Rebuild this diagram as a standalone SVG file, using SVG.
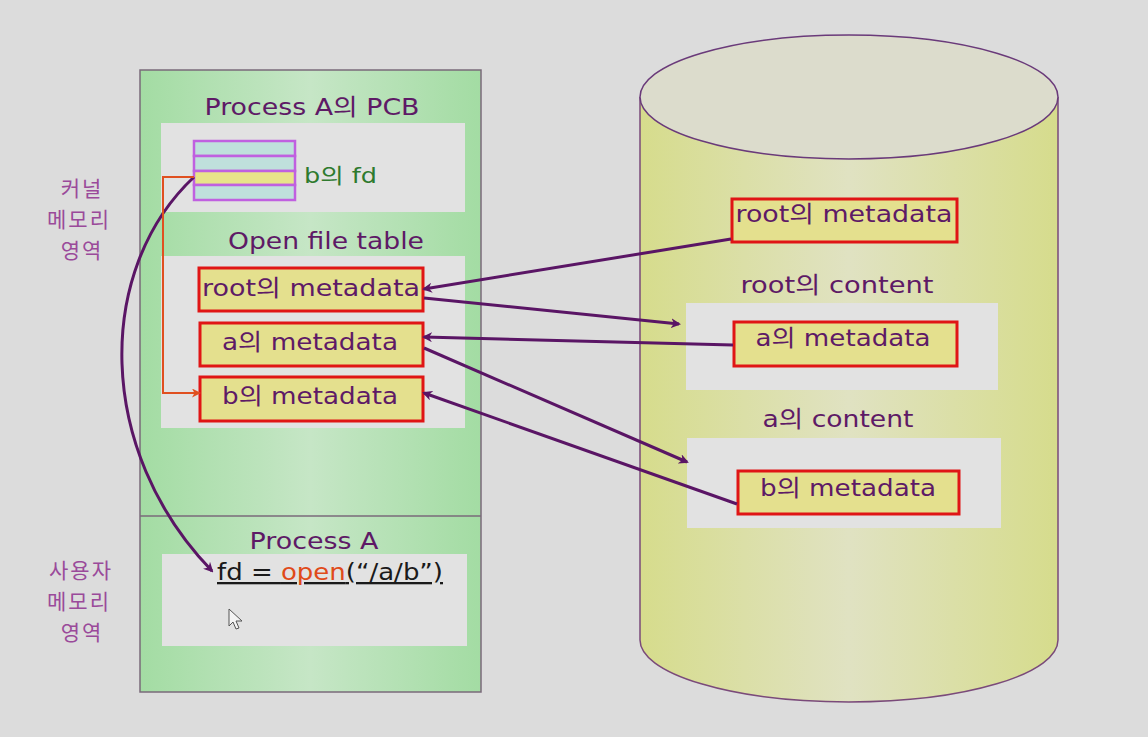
<svg xmlns="http://www.w3.org/2000/svg" width="1148" height="737" viewBox="0 0 1148 737">
<defs>
<linearGradient id="green" x1="0" y1="0" x2="1" y2="0">
<stop offset="0" stop-color="#a3dca3"/><stop offset="0.5" stop-color="#c6e6c6"/><stop offset="1" stop-color="#a3dca3"/>
</linearGradient>
<linearGradient id="cyl" x1="0" y1="0" x2="1" y2="0">
<stop offset="0" stop-color="#d6dc8c"/><stop offset="0.5" stop-color="#e0e2c2"/><stop offset="1" stop-color="#d6dc8c"/>
</linearGradient>
<marker id="ah" markerWidth="10" markerHeight="10" refX="8" refY="5" orient="auto" markerUnits="userSpaceOnUse">
<path d="M0,0 L10,5 L0,10 L3,5 Z" fill="#5a1565"/>
</marker>
<marker id="aho" markerWidth="9" markerHeight="9" refX="7" refY="4.5" orient="auto" markerUnits="userSpaceOnUse">
<path d="M0,0 L9,4.5 L0,9 L2.5,4.5 Z" fill="#e05020"/>
</marker>
<style>
.t{font-family:"DejaVu Sans","Noto Sans CJK KR",sans-serif;fill:#5e1a66}
.h{font-size:23px;text-anchor:middle}
.md{font-size:23px;text-anchor:middle}
.lab{font-family:"Noto Sans CJK KR",sans-serif;font-size:21px;letter-spacing:2px;fill:#9a4a9a;text-anchor:middle}
.gb{fill:#e2e2e2}
.meta{fill:#e4e08e;stroke:#e01515;stroke-width:3}
.row{stroke:#c060e0;stroke-width:2.5}
.c{fill:none;stroke:#5a1565;stroke-width:3}
</style>
</defs>
<rect x="0" y="0" width="1148" height="737" fill="#dcdcdc"/>

<g id="labels">
<text class="lab" x="82" y="196">커널</text>
<text class="lab" x="79" y="227">메모리</text>
<text class="lab" x="82" y="258">영역</text>
<text class="lab" x="81" y="578">사용자</text>
<text class="lab" x="79" y="609">메모리</text>
<text class="lab" x="82" y="640">영역</text>
</g>

<g id="memory">
<rect x="140" y="70" width="341" height="622" fill="url(#green)" stroke="#7a6a7a" stroke-width="1.5"/>
<line x1="140" y1="516" x2="481" y2="516" stroke="#7a6a7a" stroke-width="1.5"/>
</g>

<g id="pcb">
<text class="t h" x="312" y="115" textLength="215" lengthAdjust="spacingAndGlyphs">Process A의 PCB</text>
<rect class="gb" x="161" y="123" width="304" height="89"/>
<g id="fdtable">
<rect x="194" y="141" width="101" height="15" fill="#bfe0dc" class="row"/>
<rect x="194" y="156" width="101" height="15" fill="#bfe0dc" class="row"/>
<rect x="194" y="171" width="101" height="14" fill="#e8e38a" class="row"/>
<rect x="194" y="185" width="101" height="15" fill="#bfe0dc" class="row"/>
</g>
<text x="304" y="183" textLength="73" lengthAdjust="spacingAndGlyphs" style="font-family:'DejaVu Sans','Noto Sans CJK KR',sans-serif;font-size:21px;fill:#2e7a2e">b의 fd</text>
</g>

<g id="oft">
<text class="t h" x="326" y="249" textLength="196" lengthAdjust="spacingAndGlyphs">Open file table</text>
<rect class="gb" x="161" y="256" width="304" height="172"/>
</g>
<g id="oft-root"><rect class="meta" x="199" y="268" width="224" height="43"/><text class="t md" x="311" y="296" textLength="218" lengthAdjust="spacingAndGlyphs">root의 metadata</text></g>
<g id="oft-a"><rect class="meta" x="200" y="323" width="223" height="43"/><text class="t md" x="310" y="350" textLength="176" lengthAdjust="spacingAndGlyphs">a의 metadata</text></g>
<g id="oft-b"><rect class="meta" x="200" y="377" width="223" height="44"/><text class="t md" x="310" y="404" textLength="176" lengthAdjust="spacingAndGlyphs">b의 metadata</text></g>

<g id="processA">
<text class="t h" x="314" y="549" textLength="129" lengthAdjust="spacingAndGlyphs">Process A</text>
<rect class="gb" x="162" y="554" width="305" height="92"/>
<text x="217" y="580" textLength="226" lengthAdjust="spacingAndGlyphs" style="font-family:'DejaVu Sans',sans-serif;font-size:23px;fill:#1a1a1a;text-decoration:underline">fd = <tspan fill="#e04a1a">open</tspan>(“/a/b”)</text>
<path d="M229,609 L229,626 L233,622 L236,629 L239,628 L236,621 L242,621 Z" fill="#f4f4f4" stroke="#555" stroke-width="1"/>
</g>

<g id="disk">
<path d="M640,97 L640,640 A209,62 0 0 0 1058,640 L1058,97" fill="url(#cyl)" stroke="#7a4a7a" stroke-width="1.5"/>
<ellipse cx="849" cy="97" rx="209" ry="62" fill="#dcdccc" stroke="#6a3a7a" stroke-width="1.5"/>
</g>
<g id="disk-root"><rect class="meta" x="732" y="199" width="225" height="43"/><text class="t md" x="844" y="222" textLength="217" lengthAdjust="spacingAndGlyphs">root의 metadata</text></g>
<g id="root-content">
<text class="t h" x="837" y="293" textLength="193" lengthAdjust="spacingAndGlyphs">root의 content</text>
<rect class="gb" x="686" y="303" width="312" height="87"/>
</g>
<g id="disk-a"><rect class="meta" x="734" y="322" width="223" height="44"/><text class="t md" x="843" y="346" textLength="175" lengthAdjust="spacingAndGlyphs">a의 metadata</text></g>
<g id="a-content">
<text class="t h" x="838" y="427" textLength="151" lengthAdjust="spacingAndGlyphs">a의 content</text>
<rect class="gb" x="687" y="438" width="314" height="90"/>
</g>
<g id="disk-b"><rect class="meta" x="738" y="471" width="221" height="43"/><text class="t md" x="848" y="496" textLength="176" lengthAdjust="spacingAndGlyphs">b의 metadata</text></g>

<g id="connectors">
<path class="c" d="M731,239 L424,289" marker-end="url(#ah)"/>
<path class="c" d="M424,298 L679,324" marker-end="url(#ah)"/>
<path class="c" d="M733,345 L424,337" marker-end="url(#ah)"/>
<path class="c" d="M424,348 L687,462" marker-end="url(#ah)"/>
<path class="c" d="M737,504 L424,393" marker-end="url(#ah)"/>
<path class="c" d="M194,177 C95,270 95,450 212,571" marker-end="url(#ah)"/>
<path d="M194,177 L163,177 L163,393 L199,393" fill="none" stroke="#e05020" stroke-width="2" marker-end="url(#aho)"/>
</g>
</svg>
